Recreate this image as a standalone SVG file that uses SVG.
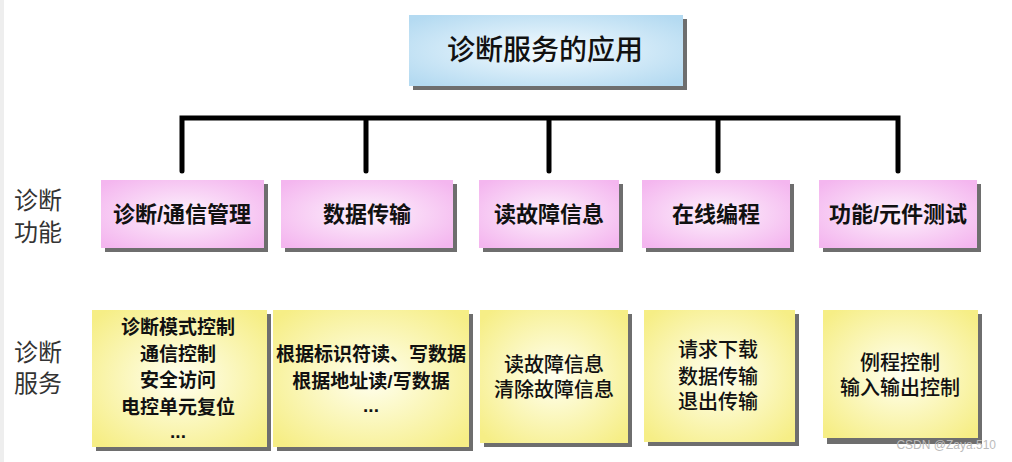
<svg xmlns="http://www.w3.org/2000/svg" width="1012" height="462" viewBox="0 0 1012 462">
<defs>
<radialGradient id="gBlue" cx="50%" cy="50%" r="65%"><stop offset="0" stop-color="#f4fbff"/><stop offset="1" stop-color="#b4daf1"/></radialGradient>
<radialGradient id="gPink" cx="50%" cy="50%" r="65%"><stop offset="0" stop-color="#fdf2fc"/><stop offset="1" stop-color="#f4b6ef"/></radialGradient>
<radialGradient id="gYel" cx="50%" cy="50%" r="65%"><stop offset="0" stop-color="#fffff0"/><stop offset="1" stop-color="#f6ee86"/></radialGradient>
<style>
.sh{fill:#6e6e6e}
.t{font-family:"Liberation Sans","Noto Sans CJK SC",sans-serif;fill:#111;text-anchor:middle}
.title{font-size:28px;font-weight:500}
.fn{font-size:22px;font-weight:bold}
.sv{font-size:19px;font-weight:bold}
.sv2{font-size:20px;font-weight:500}
.side{font-family:"Liberation Sans","Noto Sans CJK SC",sans-serif;font-size:24px;fill:#333}
.conn{stroke:#000;stroke-width:5;fill:none;stroke-linecap:round;stroke-linejoin:miter}
</style>
</defs>
<rect x="0" y="0" width="1012" height="462" fill="#fff"/>
<rect x="0" y="0" width="4" height="462" fill="#eeeeee"/>

<g id="title">
<rect class="sh" x="413" y="19" width="274" height="71"/>
<rect x="409" y="15" width="274" height="71" fill="url(#gBlue)"/>
<text class="t title" x="545" y="60">诊断服务的应用</text>
</g>

<g id="connectors">
<path class="conn" d="M182 171 V118 H898 V171 M366 118 V171 M549 118 V171 M718 118 V171"/>
</g>

<g id="label-func">
<text class="side" x="14" y="209">诊断</text>
<text class="side" x="14" y="241">功能</text>
</g>
<g id="label-serv">
<text class="side" x="14" y="361">诊断</text>
<text class="side" x="14" y="392">服务</text>
</g>

<g id="f1">
<rect class="sh" x="105" y="184" width="163" height="68"/>
<rect x="101" y="180" width="163" height="68" fill="url(#gPink)"/>
<text class="t fn" x="182" y="222">诊断/通信管理</text>
</g>
<g id="f2">
<rect class="sh" x="285" y="184" width="172" height="68"/>
<rect x="281" y="180" width="172" height="68" fill="url(#gPink)"/>
<text class="t fn" x="367" y="222">数据传输</text>
</g>
<g id="f3">
<rect class="sh" x="483" y="184" width="140" height="68"/>
<rect x="479" y="180" width="140" height="68" fill="url(#gPink)"/>
<text class="t fn" x="549" y="222">读故障信息</text>
</g>
<g id="f4">
<rect class="sh" x="646" y="184" width="148" height="68"/>
<rect x="642" y="180" width="148" height="68" fill="url(#gPink)"/>
<text class="t fn" x="716" y="222">在线编程</text>
</g>
<g id="f5">
<rect class="sh" x="823" y="184" width="158" height="68"/>
<rect x="819" y="180" width="158" height="68" fill="url(#gPink)"/>
<text class="t fn" x="898" y="222">功能/元件测试</text>
</g>

<g id="s1">
<rect class="sh" x="96" y="314" width="175" height="137"/>
<rect x="92" y="310" width="175" height="137" fill="url(#gYel)"/>
<text class="t sv" x="178" y="334">诊断模式控制</text>
<text class="t sv" x="178" y="361">通信控制</text>
<text class="t sv" x="178" y="387">安全访问</text>
<text class="t sv" x="178" y="414">电控单元复位</text>
<text class="t sv" x="178" y="438">...</text>
</g>
<g id="s2">
<rect class="sh" x="277" y="314" width="196" height="137"/>
<rect x="273" y="310" width="196" height="137" fill="url(#gYel)"/>
<text class="t sv" x="371" y="361">根据标识符读、写数据</text>
<text class="t sv" x="371" y="388">根据地址读/写数据</text>
<text class="t sv" x="371" y="412">...</text>
</g>
<g id="s3">
<rect class="sh" x="484" y="314" width="148" height="133"/>
<rect x="480" y="310" width="148" height="133" fill="url(#gYel)"/>
<text class="t sv2" x="554" y="372">读故障信息</text>
<text class="t sv2" x="554" y="397">清除故障信息</text>
</g>
<g id="s4">
<rect class="sh" x="648" y="314" width="151" height="132"/>
<rect x="644" y="310" width="151" height="132" fill="url(#gYel)"/>
<text class="t sv2" x="718" y="357">请求下载</text>
<text class="t sv2" x="718" y="384">数据传输</text>
<text class="t sv2" x="718" y="409">退出传输</text>
</g>
<g id="s5">
<rect class="sh" x="827" y="314" width="155" height="130"/>
<rect x="823" y="310" width="155" height="128" fill="url(#gYel)"/>
<text class="t sv2" x="900" y="370">例程控制</text>
<text class="t sv2" x="900" y="395">输入输出控制</text>
</g>

<text x="996" y="449" font-family="Liberation Sans,sans-serif" font-size="12" fill="#bbbbbb" text-anchor="end">CSDN @Zaya.510</text>
</svg>
